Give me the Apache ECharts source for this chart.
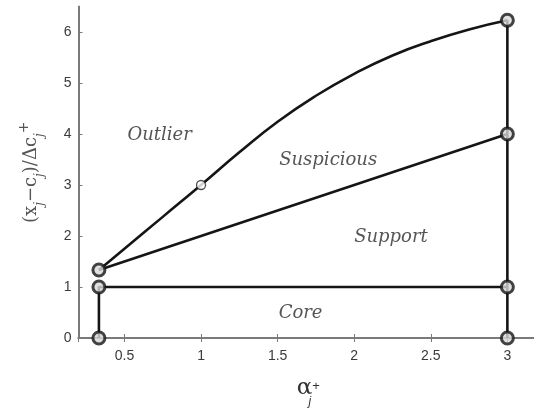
<!DOCTYPE html>
<html>
<head>
<meta charset="utf-8">
<script src="https://cdn.jsdelivr.net/npm/echarts@6/dist/echarts.min.js"></script>
<style>
html,body{margin:0;padding:0;background:#fff;}
#chart{width:534px;height:411px;}
</style>
</head>
<body>
<div id="chart"></div>
<script>
// ---- data ----
var coreLine = [[1/3, 0], [1/3, 1], [3, 1]];
var rightLine = [[3, 0], [3, 6.23]];
var supportLine = [[1/3, 4/3], [3, 4]];
var outlierCurveX = [1/3, 0.5, 0.75, 1, 1.25, 1.5, 1.75, 2, 2.25, 2.5, 2.75, 3];
var outlierCurveY = [1.333, 1.75, 2.375, 3.0, 3.64, 4.24, 4.75, 5.18, 5.54, 5.82, 6.05, 6.23];
var bigMarkers = [[1/3, 0], [1/3, 1], [1/3, 4/3], [3, 0], [3, 1], [3, 4], [3, 6.23]];
var smallMarkers = [[1, 3]];
var regionNames = ['Outlier', 'Suspicious', 'Support', 'Core'];
var regionX = [0.73, 1.83, 2.24, 1.65];
var regionY = [3.98, 3.49, 1.98, 0.49];

// ---- build ----
var curve = outlierCurveX.map(function (x, i) { return [x, outlierCurveY[i]]; });
var labels = regionNames.map(function (n, i) { return { name: n, value: [regionX[i], regionY[i]] }; });

var lineStyle = { color: '#151515', width: 2.6 };
var axisGray = '#7a7a7a';

var chart = echarts.init(document.getElementById('chart'), null, { renderer: 'canvas' });
chart.setOption({
  animation: false,
  backgroundColor: '#fff',
  grid: { left: 78.5, top: 6.5, width: 459.5, height: 331.5, containLabel: false, outerBoundsMode: 'none' },
  xAxis: [{
    type: 'value', min: 0.2, max: 3.2, splitNumber: 6,
    axisLine: { show: true, lineStyle: { color: axisGray, width: 2 } },
    axisTick: { show: true, inside: true, length: 4, lineStyle: { color: axisGray, width: 1 } },
    splitLine: { show: false },
    axisLabel: { showMinLabel: false, showMaxLabel: false, color: '#3a3a3a', fontSize: 14, fontFamily: 'Liberation Sans, Arial, sans-serif', margin: 11 },
    name: '{a|α}{s|+}\n{j| j}',
    nameLocation: 'middle', nameGap: 42,
    nameTextStyle: {
      rich: {
        a: { fontSize: 23, fontFamily: 'DejaVu Serif, serif', color: '#333', lineHeight: 16 },
        s: { fontSize: 13, fontFamily: 'Liberation Sans, sans-serif', color: '#333', lineHeight: 16, verticalAlign: 'top', padding: [0, 0, 14, 0] },
        j: { fontSize: 12, fontFamily: 'Liberation Sans, sans-serif', fontStyle: 'italic', color: '#333', lineHeight: 12 }
      }
    }
  }, {
    type: 'value', min: 0.2, max: 3.2, splitNumber: 6, position: 'top',
    axisLine: { show: true, lineStyle: { color: axisGray, width: 2 } },
    axisTick: { show: true, inside: true, length: 4, lineStyle: { color: axisGray, width: 1 } },
    splitLine: { show: false }, axisLabel: { show: false }
  }],
  yAxis: [{
    type: 'value', min: 0, max: 6.5, interval: 1,
    axisLine: { show: true, lineStyle: { color: axisGray, width: 2 } },
    axisTick: { show: true, inside: true, length: 4, lineStyle: { color: axisGray, width: 1 } },
    splitLine: { show: false },
    axisLabel: { showMaxLabel: false, color: '#3a3a3a', fontSize: 14, fontFamily: 'Liberation Sans, Arial, sans-serif', margin: 7 },
    name: '{t|(x}{j|j}{t|−c}{j|j}{t|)/Δc}{j|j}{p|+}',
    nameLocation: 'middle', nameGap: 33, nameRotate: 90,
    nameTextStyle: {
      rich: {
        t: { fontSize: 18, fontFamily: 'DejaVu Serif, serif', color: '#555', lineHeight: 28, verticalAlign: 'middle' },
        j: { fontSize: 12, fontFamily: 'DejaVu Serif, serif', fontStyle: 'italic', color: '#555', lineHeight: 28, verticalAlign: 'bottom' },
        p: { fontSize: 14, fontFamily: 'DejaVu Sans, sans-serif', color: '#555', lineHeight: 28, verticalAlign: 'top' }
      }
    }
  }, {
    type: 'value', min: 0, max: 6.5, interval: 1, position: 'right',
    axisLine: { show: true, lineStyle: { color: axisGray, width: 2 } },
    axisTick: { show: true, inside: true, length: 4, lineStyle: { color: axisGray, width: 1 } },
    splitLine: { show: false }, axisLabel: { show: false }
  }],
  series: [
    { type: 'line', data: coreLine, showSymbol: false, lineStyle: lineStyle, z: 3 },
    { type: 'line', data: rightLine, showSymbol: false, lineStyle: lineStyle, z: 3 },
    { type: 'line', data: supportLine, showSymbol: false, lineStyle: lineStyle, z: 3 },
    { type: 'line', data: curve, showSymbol: false, smooth: 0.5, lineStyle: lineStyle, z: 3 },
    { type: 'scatter', data: bigMarkers, symbol: 'circle', symbolSize: 12,
      itemStyle: { color: '#d8d8d8', borderColor: '#151515', borderWidth: 3 }, z: 5 },
    { type: 'scatter', data: smallMarkers, symbol: 'circle', symbolSize: 9,
      itemStyle: { color: '#fff', borderColor: '#222', borderWidth: 1.3 }, z: 5 },
    { type: 'scatter', data: labels, symbolSize: 0, z: 6,
      label: { show: true, position: 'inside', formatter: '{b}', color: '#2a2a2a', fontSize: 18,
        fontStyle: 'italic', fontFamily: 'DejaVu Serif, serif' } }
  ]
});
</script>
</body>
</html>
